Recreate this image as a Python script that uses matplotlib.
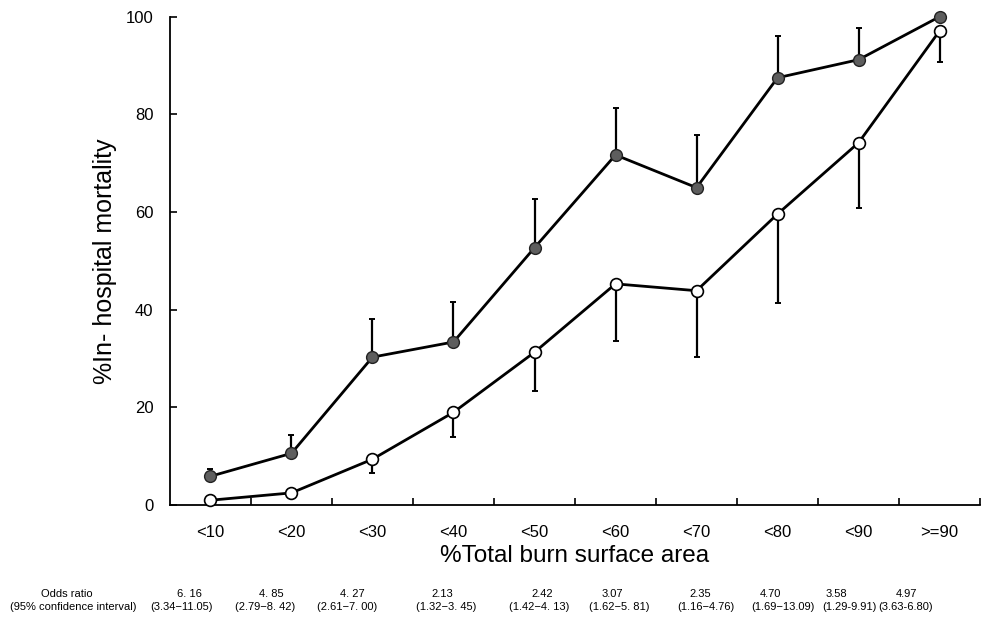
import numpy as np
import matplotlib.pyplot as plt
import matplotlib.transforms as mtransforms

plt.rcParams['font.family'] = ['Liberation Sans', 'DejaVu Sans']

categories = ['<10', '<20', '<30', '<40', '<50', '<60', '<70', '<80', '<90', '>=90']

# filled circles (upper curve) and their upper error limits
filled    = [5.9, 10.6, 30.3, 33.4, 52.7, 71.7, 65.0, 87.5, 91.2, 100.0]
filled_hi = [7.4, 14.3, 38.1, 41.6, 62.7, 81.3, 75.8, 96.1, 97.7, 100.0]

# open circles (lower curve) and their lower error limits
opened    = [1.0, 2.5, 9.4, 19.0, 31.3, 45.3, 43.9, 59.6, 74.2, 97.1]
opened_lo = [1.0, 2.5, 6.6, 14.0, 23.4, 33.6, 30.3, 41.4, 60.9, 90.8]

odds = ['6. 16', '4. 85', '4. 27', '2.13', '2.42', '3.07', '2.35', '4.70', '3.58', '4.97']
ci   = ['(3.34\u221211.05)', '(2.79\u22128. 42)', '(2.61\u22127. 00)', '(1.32\u22123. 45)',
        '(1.42\u22124. 13)', '(1.62\u22125. 81)', '(1.16\u22124.76)', '(1.69\u221213.09)',
        '(1.29-9.91)', '(3.63-6.80)']
# horizontal position of the table entries (category units)
odds_x = [-0.26, 0.75, 1.75, 2.86, 4.09, 4.96, 6.04, 6.91, 7.73, 8.59]
ci_x   = [-0.36, 0.68, 1.69, 2.91, 4.06, 5.05, 6.12, 7.07, 7.89, 8.58]

x = np.arange(len(categories))
filled = np.array(filled); filled_hi = np.array(filled_hi)
opened = np.array(opened); opened_lo = np.array(opened_lo)

fig = plt.figure(figsize=(9.88, 6.19), dpi=100)
ax = fig.add_axes([0.172, 0.184, 0.82, 0.789])

ax.errorbar(x, filled, yerr=[np.zeros(len(x)), filled_hi - filled], fmt='none',
            ecolor='black', elinewidth=1.6, capsize=2.5, capthick=1.4, clip_on=False)
ax.errorbar(x, opened, yerr=[opened - opened_lo, np.zeros(len(x))], fmt='none',
            ecolor='black', elinewidth=1.6, capsize=2.5, capthick=1.4, clip_on=False)
ax.plot(x, filled, '-', color='black', lw=2, marker='o', ms=8.5,
        mfc='#5e5e5e', mec='#222222', mew=1.0, clip_on=False, zorder=3)
ax.plot(x, opened, '-', color='black', lw=2, marker='o', ms=8.5,
        mfc='white', mec='black', mew=1.2, clip_on=False, zorder=3)

ax.set_xlim(-0.5, 9.5)
ax.set_ylim(0, 100)
ax.spines['top'].set_visible(False)
ax.spines['right'].set_visible(False)
ax.spines['left'].set_linewidth(1.3)
ax.spines['bottom'].set_linewidth(1.3)

ax.set_yticks([0, 20, 40, 60, 80, 100])
ax.tick_params(axis='y', direction='in', length=5, width=1.2, labelsize=12, pad=12)
ax.set_xticks(np.arange(0.5, 10, 1))
ax.set_xticklabels([])
ax.tick_params(axis='x', which='major', direction='in', length=5, width=1.2)
ax.set_xticks(x, minor=True)
ax.set_xticklabels(categories, minor=True)
ax.tick_params(axis='x', which='minor', length=0, labelsize=12, pad=14)

ax.set_xlabel('%Total burn surface area', fontsize=17.5, labelpad=4)
ax.set_ylabel('%In- hospital mortality', fontsize=18, labelpad=6)

trans = mtransforms.blended_transform_factory(ax.transData, fig.transFigure)
fig.text(67 / 988, 1 - 594 / 619, 'Odds ratio', ha='center', va='center', fontsize=8)
fig.text(73 / 988, 1 - 607 / 619, '(95% confidence interval)', ha='center', va='center', fontsize=8)
for ox, cx, o, c in zip(odds_x, ci_x, odds, ci):
    ax.text(ox, 1 - 594 / 619, o, transform=trans, ha='center', va='center', fontsize=8)
    ax.text(cx, 1 - 607 / 619, c, transform=trans, ha='center', va='center', fontsize=8)

fig.savefig('out.png', dpi=100)
